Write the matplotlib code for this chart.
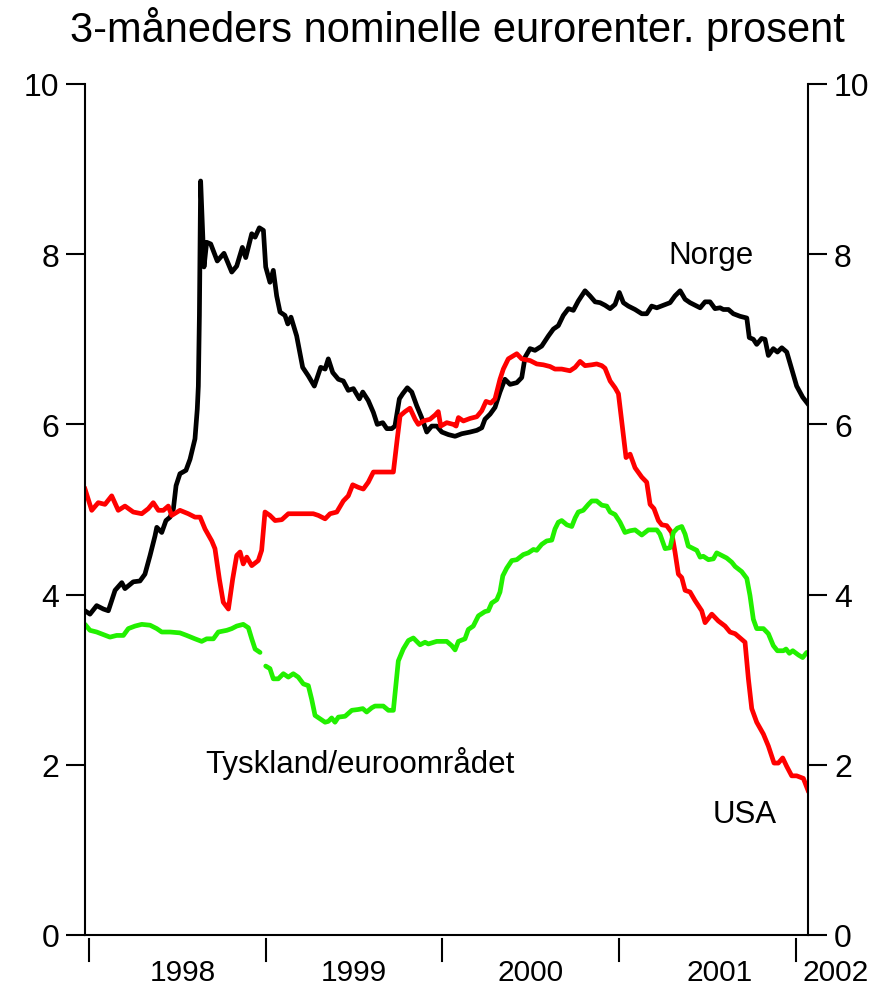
import numpy as np
import matplotlib
matplotlib.use("Agg")
import matplotlib.pyplot as plt
import matplotlib.transforms as mtransforms

plt.rcParams["font.family"] = ["Liberation Sans", "DejaVu Sans"]

# decimal years / percent
norge_x = [1997.979, 1998.007, 1998.045, 1998.083, 1998.111, 1998.149, 1998.187, 1998.205,
           1998.252, 1998.290, 1998.318, 1998.347, 1998.375, 1998.385, 1998.413, 1998.437,
           1998.460, 1998.479, 1998.494, 1998.516, 1998.550, 1998.573, 1998.601, 1998.614,
           1998.620, 1998.626, 1998.633, 1998.652, 1998.667, 1998.690, 1998.727, 1998.765,
           1998.809, 1998.837, 1998.869, 1998.888, 1998.922, 1998.941, 1998.965, 1998.988,
           1999.001, 1999.025, 1999.044, 1999.063, 1999.082, 1999.110, 1999.126, 1999.144,
           1999.176, 1999.210, 1999.242, 1999.276, 1999.312, 1999.337, 1999.355, 1999.380,
           1999.412, 1999.440, 1999.468, 1999.497, 1999.531, 1999.550, 1999.581, 1999.610,
           1999.632, 1999.663, 1999.686, 1999.714, 1999.732, 1999.757, 1999.776, 1999.802,
           1999.827, 1999.855, 1999.883, 1999.912, 1999.940, 1999.968, 1999.997, 2000.034,
           2000.072, 2000.110, 2000.157, 2000.195, 2000.223, 2000.241, 2000.270, 2000.298,
           2000.326, 2000.354, 2000.383, 2000.421, 2000.449, 2000.468, 2000.496, 2000.524,
           2000.562, 2000.600, 2000.628, 2000.656, 2000.684, 2000.713, 2000.741, 2000.769,
           2000.807, 2000.835, 2000.864, 2000.892, 2000.920, 2000.949, 2000.977, 2001.001,
           2001.024, 2001.052, 2001.090, 2001.128, 2001.156, 2001.184, 2001.213, 2001.250,
           2001.288, 2001.316, 2001.345, 2001.373, 2001.401, 2001.429, 2001.458, 2001.486,
           2001.514, 2001.542, 2001.571, 2001.589, 2001.618, 2001.646, 2001.684, 2001.722,
           2001.736, 2001.759, 2001.778, 2001.806, 2001.825, 2001.844, 2001.872, 2001.895,
           2001.920, 2001.948, 2001.976, 2002.004, 2002.038, 2002.064]
norge_y = [3.81, 3.77, 3.87, 3.83, 3.81, 4.05, 4.14, 4.07,
           4.15, 4.16, 4.24, 4.46, 4.69, 4.79, 4.73, 4.87,
           4.91, 5.01, 5.28, 5.42, 5.46, 5.59, 5.83, 6.18,
           6.45, 7.28, 8.86, 7.85, 8.14, 8.12, 7.92, 8.01,
           7.79, 7.86, 8.08, 7.96, 8.24, 8.20, 8.31, 8.28,
           7.85, 7.67, 7.81, 7.51, 7.32, 7.28, 7.18, 7.26,
           7.04, 6.67, 6.57, 6.45, 6.67, 6.65, 6.77, 6.61,
           6.53, 6.51, 6.40, 6.42, 6.30, 6.38, 6.28, 6.14,
           6.00, 6.02, 5.95, 5.95, 5.98, 6.30, 6.36, 6.43,
           6.38, 6.22, 6.08, 5.91, 5.98, 5.98, 5.91, 5.88,
           5.86, 5.89, 5.91, 5.93, 5.96, 6.06, 6.12, 6.20,
           6.38, 6.53, 6.47, 6.49, 6.55, 6.79, 6.89, 6.87,
           6.92, 7.04, 7.12, 7.16, 7.28, 7.36, 7.34, 7.45,
           7.57, 7.51, 7.44, 7.43, 7.40, 7.36, 7.41, 7.55,
           7.43, 7.39, 7.35, 7.30, 7.30, 7.39, 7.37, 7.40,
           7.43, 7.51, 7.57, 7.47, 7.43, 7.40, 7.37, 7.44,
           7.44, 7.36, 7.37, 7.35, 7.35, 7.30, 7.27, 7.25,
           7.02, 7.00, 6.94, 7.01, 7.00, 6.81, 6.89, 6.85,
           6.90, 6.85, 6.65, 6.45, 6.32, 6.25]

usa_x = [1997.979, 1998.017, 1998.054, 1998.092, 1998.130, 1998.167, 1998.205, 1998.252,
         1998.300, 1998.337, 1998.365, 1998.394, 1998.422, 1998.450, 1998.469, 1998.516,
         1998.563, 1998.601, 1998.630, 1998.658, 1998.696, 1998.714, 1998.739, 1998.761,
         1998.790, 1998.814, 1998.837, 1998.856, 1998.874, 1998.894, 1998.922, 1998.959,
         1998.978, 1998.997, 1999.025, 1999.054, 1999.092, 1999.129, 1999.195, 1999.270,
         1999.299, 1999.337, 1999.365, 1999.403, 1999.440, 1999.468, 1999.493, 1999.525,
         1999.553, 1999.581, 1999.610, 1999.648, 1999.723, 1999.745, 1999.761, 1999.789,
         1999.817, 1999.846, 1999.864, 1999.892, 1999.930, 1999.959, 1999.977, 1999.991,
         2000.025, 2000.062, 2000.078, 2000.091, 2000.119, 2000.157, 2000.195, 2000.223,
         2000.247, 2000.274, 2000.298, 2000.326, 2000.345, 2000.373, 2000.421, 2000.449,
         2000.496, 2000.534, 2000.571, 2000.609, 2000.637, 2000.675, 2000.722, 2000.751,
         2000.779, 2000.807, 2000.845, 2000.873, 2000.902, 2000.920, 2000.949, 2000.977,
         2000.996, 2001.024, 2001.039, 2001.062, 2001.090, 2001.128, 2001.156, 2001.175,
         2001.197, 2001.222, 2001.241, 2001.269, 2001.297, 2001.316, 2001.335, 2001.354,
         2001.373, 2001.401, 2001.429, 2001.467, 2001.486, 2001.505, 2001.524, 2001.561,
         2001.599, 2001.627, 2001.656, 2001.684, 2001.712, 2001.731, 2001.750, 2001.778,
         2001.816, 2001.844, 2001.876, 2001.900, 2001.925, 2001.948, 2001.976, 2002.004,
         2002.042, 2002.068]
usa_y = [5.24, 4.99, 5.08, 5.06, 5.16, 4.99, 5.04, 4.97,
         4.95, 5.01, 5.08, 4.99, 4.99, 5.04, 4.93, 4.99,
         4.95, 4.91, 4.91, 4.77, 4.63, 4.54, 4.18, 3.91,
         3.83, 4.18, 4.46, 4.50, 4.36, 4.44, 4.34, 4.40,
         4.52, 4.97, 4.93, 4.87, 4.88, 4.95, 4.95, 4.95,
         4.93, 4.89, 4.95, 4.97, 5.10, 5.16, 5.29, 5.26,
         5.24, 5.32, 5.44, 5.44, 5.44, 5.83, 6.10, 6.15,
         6.19, 6.06, 6.00, 6.04, 6.06, 6.11, 6.15, 5.98,
         6.02, 6.00, 5.98, 6.08, 6.04, 6.07, 6.09, 6.16,
         6.27, 6.25, 6.30, 6.53, 6.65, 6.77, 6.83, 6.77,
         6.75, 6.71, 6.70, 6.68, 6.65, 6.65, 6.63, 6.67,
         6.74, 6.69, 6.70, 6.71, 6.69, 6.66, 6.51, 6.43,
         6.36, 5.87, 5.61, 5.65, 5.49, 5.38, 5.32, 5.06,
         5.01, 4.87, 4.82, 4.81, 4.73, 4.50, 4.24, 4.20,
         4.05, 4.03, 3.93, 3.81, 3.67, 3.72, 3.77, 3.69,
         3.63, 3.56, 3.54, 3.49, 3.44, 3.01, 2.66, 2.50,
         2.36, 2.22, 2.02, 2.02, 2.08, 1.98, 1.87, 1.87,
         1.84, 1.70]

# nan marks the break in the series at the euro changeover
tysk_x = [1997.979, 1998.007, 1998.045, 1998.083, 1998.120, 1998.158, 1998.196, 1998.224,
          1998.262, 1998.300, 1998.347, 1998.385, 1998.413, 1998.460, 1998.516, 1998.554,
          1998.601, 1998.639, 1998.667, 1998.705, 1998.733, 1998.781, 1998.809, 1998.837,
          1998.874, 1998.903, 1998.922, 1998.941, 1998.969, 1998.985,
          1999.001, 1999.025, 1999.044, 1999.072, 1999.101, 1999.129, 1999.157, 1999.185,
          1999.214, 1999.242, 1999.261, 1999.280, 1999.308, 1999.337, 1999.355, 1999.374,
          1999.393, 1999.412, 1999.450, 1999.488, 1999.525, 1999.550, 1999.572, 1999.601,
          1999.619, 1999.666, 1999.695, 1999.723, 1999.751, 1999.779, 1999.808, 1999.836,
          1999.874, 1999.902, 1999.921, 1999.968, 2000.025, 2000.053, 2000.072, 2000.091,
          2000.128, 2000.147, 2000.175, 2000.204, 2000.241, 2000.260, 2000.279, 2000.308,
          2000.326, 2000.342, 2000.364, 2000.393, 2000.421, 2000.458, 2000.486, 2000.515,
          2000.534, 2000.562, 2000.590, 2000.619, 2000.637, 2000.656, 2000.675, 2000.704,
          2000.732, 2000.751, 2000.769, 2000.797, 2000.826, 2000.845, 2000.873, 2000.902,
          2000.930, 2000.949, 2000.977, 2001.005, 2001.033, 2001.062, 2001.090, 2001.128,
          2001.165, 2001.213, 2001.231, 2001.260, 2001.288, 2001.307, 2001.329, 2001.354,
          2001.373, 2001.391, 2001.410, 2001.439, 2001.458, 2001.476, 2001.505, 2001.533,
          2001.552, 2001.580, 2001.608, 2001.637, 2001.656, 2001.693, 2001.722, 2001.740,
          2001.759, 2001.778, 2001.816, 2001.844, 2001.872, 2001.895, 2001.929, 2001.944,
          2001.963, 2001.982, 2002.014, 2002.038, 2002.061]
tysk_y = [3.65, 3.58, 3.56, 3.53, 3.50, 3.52, 3.52, 3.60,
          3.63, 3.65, 3.64, 3.60, 3.56, 3.56, 3.55, 3.52,
          3.48, 3.45, 3.48, 3.48, 3.56, 3.58, 3.60, 3.63,
          3.65, 3.61, 3.48, 3.36, 3.32, np.nan,
          3.16, 3.13, 3.01, 3.01, 3.07, 3.03, 3.07, 3.03,
          2.95, 2.93, 2.77, 2.58, 2.54, 2.50, 2.51, 2.55,
          2.50, 2.56, 2.57, 2.64, 2.65, 2.66, 2.62, 2.67,
          2.69, 2.69, 2.64, 2.64, 3.22, 3.36, 3.46, 3.49,
          3.41, 3.44, 3.42, 3.45, 3.45, 3.40, 3.35, 3.45,
          3.48, 3.59, 3.63, 3.75, 3.80, 3.81, 3.90, 3.94,
          4.03, 4.22, 4.31, 4.40, 4.41, 4.47, 4.49, 4.53,
          4.52, 4.59, 4.63, 4.64, 4.77, 4.85, 4.87, 4.82,
          4.80, 4.90, 4.97, 4.99, 5.06, 5.10, 5.10, 5.05,
          5.04, 4.97, 4.94, 4.85, 4.73, 4.75, 4.76, 4.70,
          4.76, 4.76, 4.71, 4.54, 4.55, 4.73, 4.78, 4.80,
          4.71, 4.57, 4.55, 4.52, 4.44, 4.45, 4.41, 4.42,
          4.49, 4.46, 4.43, 4.38, 4.33, 4.27, 4.19, 3.99,
          3.71, 3.60, 3.60, 3.54, 3.40, 3.34, 3.34, 3.36,
          3.31, 3.34, 3.29, 3.26, 3.32]

year_ticks = [1998, 1999, 2000, 2001, 2002]
year_labels = ["1998", "1999", "2000", "2001"]
year_label_pos = [1998.53, 1999.50, 2000.50, 2001.57]
y_ticks = [0, 2, 4, 6, 8, 10]

fig = plt.figure(figsize=(8.92, 9.87), dpi=100)
ax = fig.add_axes([0.0953, 0.0517, 0.8105, 0.8622])

ax.plot(norge_x, norge_y, color="black", lw=3.4, solid_joinstyle="round")
ax.plot(usa_x, usa_y, color="#ff0000", lw=3.4, solid_joinstyle="round")
ax.plot(tysk_x, tysk_y, color="#22f000", lw=3.4, solid_joinstyle="round",
        solid_capstyle="round")

ax.set_xlim(1997.979, 2002.068)
ax.set_ylim(0, 10)

for side in ["left", "right", "bottom"]:
    ax.spines[side].set_linewidth(1.5)
ax.spines["top"].set_visible(False)

ax.set_yticks(y_ticks)
ax.tick_params(axis="y", which="both", direction="out", length=13.7, width=1.5,
               labelsize=23, left=True, right=True, labelleft=True, labelright=True,
               pad=5)
ax.set_xticks([])

# year ticks sit just below the axis line
trans = mtransforms.blended_transform_factory(ax.transData, ax.transAxes)
for yr in year_ticks:
    ax.plot([yr, yr], [-0.005, -0.031], color="black", lw=1.5, transform=trans,
            clip_on=False)
for pos, lab in zip(year_label_pos, year_labels):
    ax.text(pos, -0.044, lab, transform=trans, ha="center", va="center", fontsize=21.5)
ax.text(2002.035, -0.044, "2002", transform=trans, ha="left", va="center", fontsize=21.5)

ax.text(2001.277, 7.9, "Norge", fontsize=22.5, ha="left", va="baseline")
ax.text(1998.66, 1.91, "Tyskland/euroområdet", fontsize=22.5, ha="left", va="baseline")
ax.text(2001.53, 1.33, "USA", fontsize=22.5, ha="left", va="baseline")

fig.text(0.513, 0.957, "3-måneders nominelle eurorenter. prosent", ha="center",
         va="baseline", fontsize=30)

fig.savefig("out.png", dpi=100)
